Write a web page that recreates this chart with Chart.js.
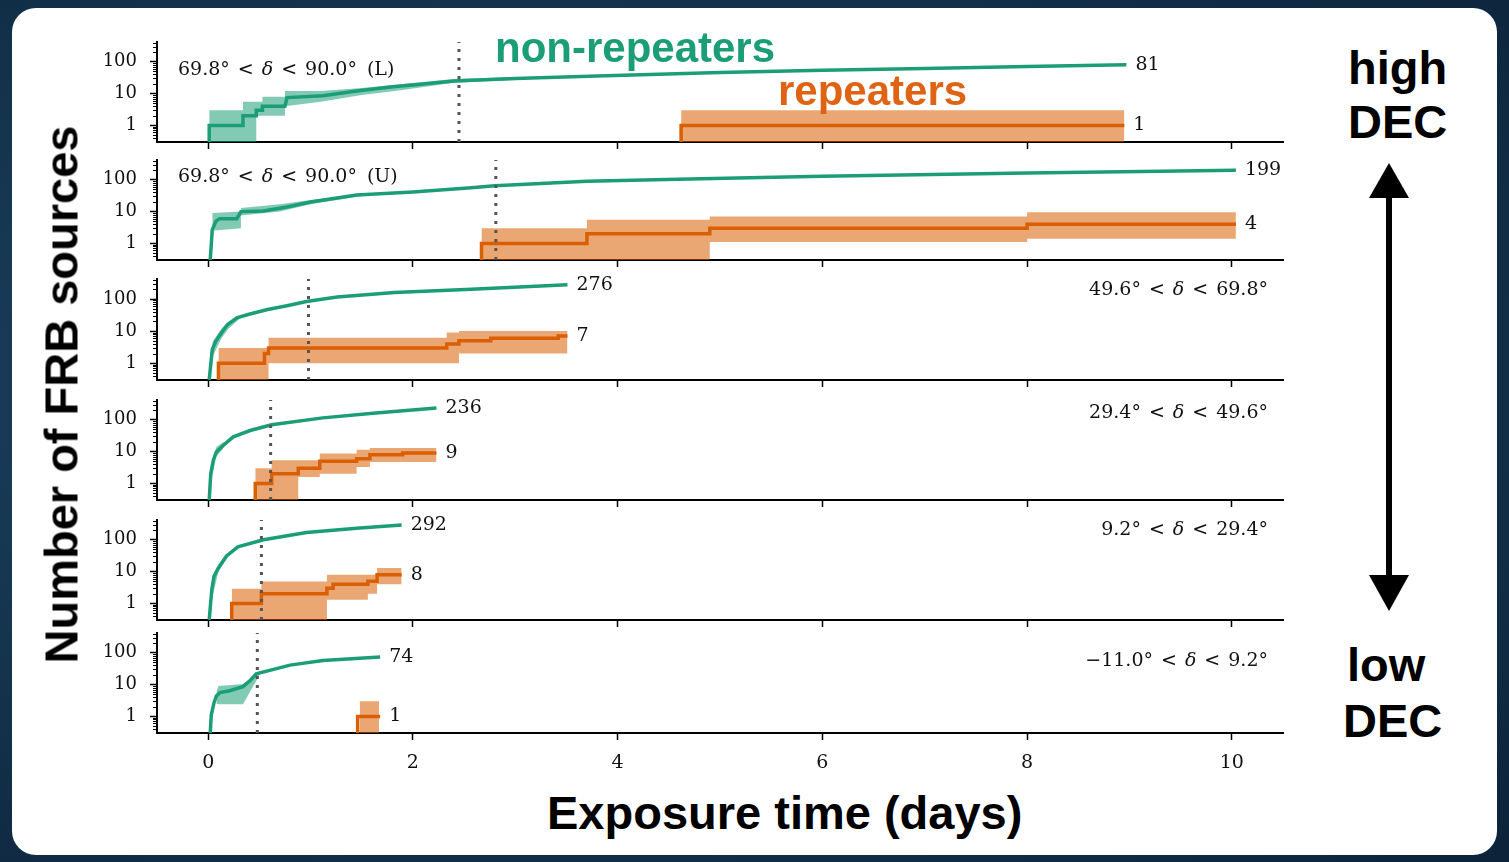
<!DOCTYPE html>
<html>
<head>
<meta charset="utf-8">
<script src="https://cdn.jsdelivr.net/npm/chart.js@4.4.0/dist/chart.umd.min.js"></script>
<style>
html, body { margin: 0; padding: 0; }
body { width: 1509px; height: 862px; overflow: hidden; position: relative;
  background: radial-gradient(ellipse at 35% 45%, #24496b 0%, #163752 45%, #0c2339 100%); }
#card { position: absolute; left: 12px; top: 8px; width: 1485px; height: 847px; background: #fff; border-radius: 24px; }
canvas { position: absolute; left: 0; }
.t { position: absolute; font-family: "Liberation Sans", Arial, sans-serif; font-weight: bold; white-space: nowrap; line-height: 1; color: #000; }
.rng { position: absolute; font-family: "DejaVu Serif", serif; font-size: 19px; color: #111; white-space: nowrap; line-height: 1; transform: translateY(-50%); }
.rng .r { margin: 0 8px; }
.rng .tag { margin-left: 10px; }
</style>
</head>
<body>
<div id="card"></div>
<div id="plots"></div>

<div class="t" style="left:495px;top:27px;font-size:42px;color:#1b9e77;">non-repeaters</div>
<div class="t" style="left:778px;top:70px;font-size:42px;color:#df6313;">repeaters</div>
<div class="t" style="left:1348px;top:44px;font-size:47px;">high</div>
<div class="t" style="left:1348px;top:98px;font-size:47px;">DEC</div>
<div class="t" style="left:1347px;top:641px;font-size:47px;">low</div>
<div class="t" style="left:1343px;top:697px;font-size:47px;">DEC</div>
<div class="t" style="left:547px;top:789px;font-size:47px;">Exposure time (days)</div>
<div class="t" style="left:-239px;top:371px;width:600px;height:47px;line-height:47px;text-align:center;font-size:47px;transform:rotate(-90deg);">Number of FRB sources</div>

<svg style="position:absolute;left:1369px;top:160px;" width="40" height="455">
  <line x1="20" y1="30" x2="20" y2="425" stroke="#000" stroke-width="6"/>
  <polygon points="20,3 0,38 40,38" fill="#000"/>
  <polygon points="20,451 0,415 40,415" fill="#000"/>
</svg>

<script>
// shared axes
const xTicks = [0, 2, 4, 6, 8, 10];
const yTicks = [1, 10, 100];
const yMinorTicks = [0.4, 0.5, 0.6, 0.7, 0.8, 0.9, 2, 3, 4, 5, 6, 7, 8, 9,
  20, 30, 40, 50, 60, 70, 80, 90, 200, 300, 400];

// declination bins, top to bottom
const decLow = ['69.8', '69.8', '49.6', '29.4', '9.2', '\u221211.0'];
const decHigh = ['90.0', '90.0', '69.8', '49.6', '29.4', '9.2'];
const decTag = ['(L)', '(U)', '', '', '', ''];
const midExposure = [2.45, 2.81, 0.98, 0.61, 0.52, 0.48];

// non-repeaters: cumulative count vs exposure (days)
const nrT = [
  [0.01, 0.01, 0.34, 0.34, 0.47, 0.47, 0.53, 0.53, 0.75, 0.77, 1.12, 1.45, 1.78, 2.1, 2.4, 3.0, 3.8, 5.0, 6.0, 7.0, 8.0, 8.97],
  [0.02, 0.04, 0.075, 0.11, 0.28, 0.32, 0.54, 0.77, 1.0, 1.45, 2.0, 2.57, 2.8, 3.7, 4.7, 6.0, 8.0, 10.04],
  [0.01, 0.04, 0.075, 0.13, 0.19, 0.28, 0.39, 0.58, 0.77, 0.96, 1.26, 1.82, 2.57, 3.51],
  [0.01, 0.025, 0.05, 0.08, 0.15, 0.245, 0.41, 0.62, 1.12, 1.61, 2.23],
  [0.01, 0.035, 0.057, 0.1, 0.18, 0.29, 0.54, 0.96, 1.45, 1.89],
  [0.02, 0.03, 0.057, 0.08, 0.115, 0.21, 0.34, 0.41, 0.47, 0.8, 1.12, 1.68]
];
const nrN = [
  [0.3, 1, 1, 2, 2, 3, 3, 4, 4, 7.5, 8.5, 12, 16, 20, 25, 30, 36, 46, 54, 62, 71, 81],
  [0.3, 2.7, 4.9, 6, 6, 10, 10.5, 14, 20, 33, 41, 56, 65, 90, 107, 130, 165, 199],
  [0.3, 2.7, 4.9, 8.9, 16, 26, 33, 47, 62, 84, 116, 160, 203, 276],
  [0.3, 2, 5.4, 9.8, 16, 29, 46, 70, 115, 160, 236],
  [0.3, 2.7, 7.1, 13, 31, 60, 100, 170, 230, 292],
  [0.3, 1.1, 2.7, 4.4, 5.6, 6.4, 8.6, 13.5, 22, 41, 57, 74]
];
const nrBandT = [
  [0.01, 0.34, 0.34, 0.47, 0.47, 0.53, 0.53, 0.75, 0.75, 1.1, 1.5, 1.9, 2.4, 3.0],
  [0.04, 0.32, 0.32, 0.7, 1.0, 1.5],
  [0.04, 0.13, 0.2, 0.3],
  [0.03, 0.08, 0.15],
  [0.035, 0.1, 0.18],
  [0.08, 0.1, 0.34, 0.44, 0.5]
];
const nrBandLo = [
  [0.3, 0.3, 0.3, 0.3, 2, 2, 2, 2, 4, 5.5, 9, 13, 22, 27],
  [2.5, 3, 7.5, 10, 17, 31],
  [1.5, 6, 12, 23],
  [1.2, 7, 13],
  [1.3, 10, 26],
  [2.5, 2.4, 2.4, 9, 19]
];
const nrBandHi = [
  [3, 3, 5.5, 5.5, 5.5, 5.5, 8, 8, 12, 12, 15, 20, 29, 33],
  [9, 10, 13, 17, 23, 36],
  [4.5, 12, 20, 29],
  [4, 14, 20],
  [4.5, 17, 36],
  [6, 9, 10.5, 18, 25]
];

// repeaters: stepped cumulative count
const rpT = [
  [4.62, 4.62, 8.95],
  [2.67, 2.67, 3.70, 4.9, 8.0, 10.04],
  [0.10, 0.10, 0.55, 0.59, 2.33, 2.45, 2.76, 3.42, 3.51],
  [0.46, 0.46, 0.62, 0.88, 1.09, 1.45, 1.58, 1.9, 2.23],
  [0.23, 0.23, 0.52, 1.16, 1.22, 1.56, 1.65, 1.89],
  [1.46, 1.46, 1.68]
];
const rpN = [
  [0.3, 1, 1],
  [0.3, 1, 2, 3, 4, 4],
  [0.3, 1, 2, 3, 4, 5, 6, 7, 7],
  [0.3, 1, 2, 3, 5, 6, 8, 9, 9],
  [0.3, 1, 2, 3, 4, 5, 8, 8],
  [0.3, 1, 1]
];
const rpBandT = [
  [4.62, 8.95],
  [2.67, 3.70, 4.9, 8.0, 10.04],
  [0.10, 0.59, 2.33, 2.45, 3.51],
  [0.46, 0.62, 0.88, 1.09, 1.45, 1.58, 2.23],
  [0.23, 0.52, 1.16, 1.56, 1.65, 1.89],
  [1.48, 1.67]
];
const rpBandLo = [
  [0.3, 0.3],
  [0.3, 0.3, 1.1, 1.4, 1.4],
  [0.3, 1, 1, 2, 2],
  [0.3, 0.3, 1.6, 2, 3.3, 4.7, 4.7],
  [0.3, 0.3, 1.3, 2, 4, 4],
  [0.3, 0.3]
];
const rpBandHi = [
  [3, 3],
  [3, 5.5, 7, 9.5, 9.5],
  [3, 6.2, 9, 10, 10],
  [3, 5.3, 5.3, 8.7, 11.5, 13, 13],
  [2.9, 4.9, 8, 8, 13, 13],
  [3, 3]
];

// page layout (px)
const panelTop = [42, 160, 279, 400, 520, 633];
const panelBottom = [142, 260, 380, 500, 620, 733];
const labelY = [68, 175, 288, 411, 528, 659];

const green = '#1b9e77', greenBand = 'rgba(27,158,119,0.55)';
const orange = '#d95f02', orangeBand = 'rgba(217,95,2,0.55)';
const serif = '"DejaVu Serif", serif';

function pts(t, n) {
  return t.map((v, i) => ({ x: v, y: n[i] }));
}

const plots = document.getElementById('plots');

for (let i = 0; i < 6; i++) {
  const last = i === 5;
  const padTop = 8;
  const axisH = last ? 50 : 10;
  const cv = document.createElement('canvas');
  cv.width = 1300;
  cv.height = padTop + (panelBottom[i] - panelTop[i]) + axisH;
  cv.style.top = (panelTop[i] - padTop) + 'px';
  cv.style.width = cv.width + 'px';
  cv.style.height = cv.height + 'px';
  plots.appendChild(cv);

  // bin label
  const lab = document.createElement('div');
  lab.className = 'rng';
  lab.innerHTML = `<span>${decLow[i]}°</span><span class="r">&lt;</span><i>δ</i><span class="r">&lt;</span><span>${decHigh[i]}°</span>` +
    (decTag[i] ? `<span class="tag">${decTag[i]}</span>` : '');
  lab.style.top = labelY[i] + 'px';
  if (i < 2) lab.style.left = '178px';
  else lab.style.right = (1509 - 1268) + 'px';
  document.body.appendChild(lab);

  const extras = {
    id: 'extras' + i,
    afterDraw(chart) {
      const { ctx, chartArea, scales: { x, y } } = chart;
      ctx.save();
      ctx.strokeStyle = '#000';
      ctx.lineWidth = 1;
      yMinorTicks.forEach(v => {
        const py = Math.round(y.getPixelForValue(v)) + 0.5;
        ctx.beginPath();
        ctx.moveTo(chartArea.left - 4, py);
        ctx.lineTo(chartArea.left, py);
        ctx.stroke();
      });
      ctx.font = '19px ' + serif;
      ctx.fillStyle = '#111';
      ctx.textBaseline = 'middle';
      [[nrT[i], nrN[i]], [rpT[i], rpN[i]]].forEach(([t, n]) => {
        const k = t.length - 1;
        ctx.fillText(String(n[k]), x.getPixelForValue(t[k]) + 9, y.getPixelForValue(n[k]));
      });
      ctx.restore();
    }
  };

  new Chart(cv, {
    type: 'line',
    data: {
      datasets: [
        { data: [{ x: midExposure[i], y: 0.3 }, { x: midExposure[i], y: 420 }],
          borderColor: '#555', borderWidth: 3, borderDash: [3, 6] },
        { data: pts(nrT[i], nrN[i]), borderColor: green, borderWidth: 3.5 },
        { data: pts(rpT[i], rpN[i]), borderColor: orange, borderWidth: 3.5, stepped: true },
        { data: pts(nrBandT[i], nrBandLo[i]), borderWidth: 0, borderColor: 'rgba(0,0,0,0)' },
        { data: pts(nrBandT[i], nrBandHi[i]), borderWidth: 0, borderColor: 'rgba(0,0,0,0)',
          fill: 3, backgroundColor: greenBand },
        { data: pts(rpBandT[i], rpBandLo[i]), borderWidth: 0, borderColor: 'rgba(0,0,0,0)', stepped: true },
        { data: pts(rpBandT[i], rpBandHi[i]), borderWidth: 0, borderColor: 'rgba(0,0,0,0)', stepped: true,
          fill: 5, backgroundColor: orangeBand }
      ]
    },
    options: {
      responsive: false,
      animation: false,
      layout: { padding: { top: padTop, right: 17, left: 0, bottom: 0 } },
      elements: { point: { radius: 0 }, line: { tension: 0 } },
      plugins: { legend: { display: false }, tooltip: { enabled: false } },
      scales: {
        x: {
          type: 'linear', min: -0.5, max: 10.5,
          afterBuildTicks: s => { s.ticks = xTicks.map(v => ({ value: v })); },
          afterFit: s => { s.height = axisH; s.paddingLeft = 0; s.paddingRight = 0; },
          grid: { drawOnChartArea: false, tickLength: 7, tickWidth: 1.5, tickColor: '#000' },
          border: { display: true, color: '#000', width: 2 },
          ticks: { display: last, color: '#111', font: { family: serif, size: 19 }, padding: 12, maxRotation: 0 }
        },
        y: {
          type: 'logarithmic', min: 0.3, max: 420,
          afterBuildTicks: s => { s.ticks = yTicks.map(v => ({ value: v })); },
          afterFit: s => { s.width = 157; s.paddingTop = 0; s.paddingBottom = 0; },
          grid: { drawOnChartArea: false, tickLength: 7, tickWidth: 1.5, tickColor: '#000' },
          border: { display: true, color: '#000', width: 2 },
          ticks: { color: '#111', font: { family: serif, size: 18 }, padding: 13, callback: v => String(v) }
        }
      }
    },
    plugins: [extras]
  });
}
</script>
</body>
</html>
